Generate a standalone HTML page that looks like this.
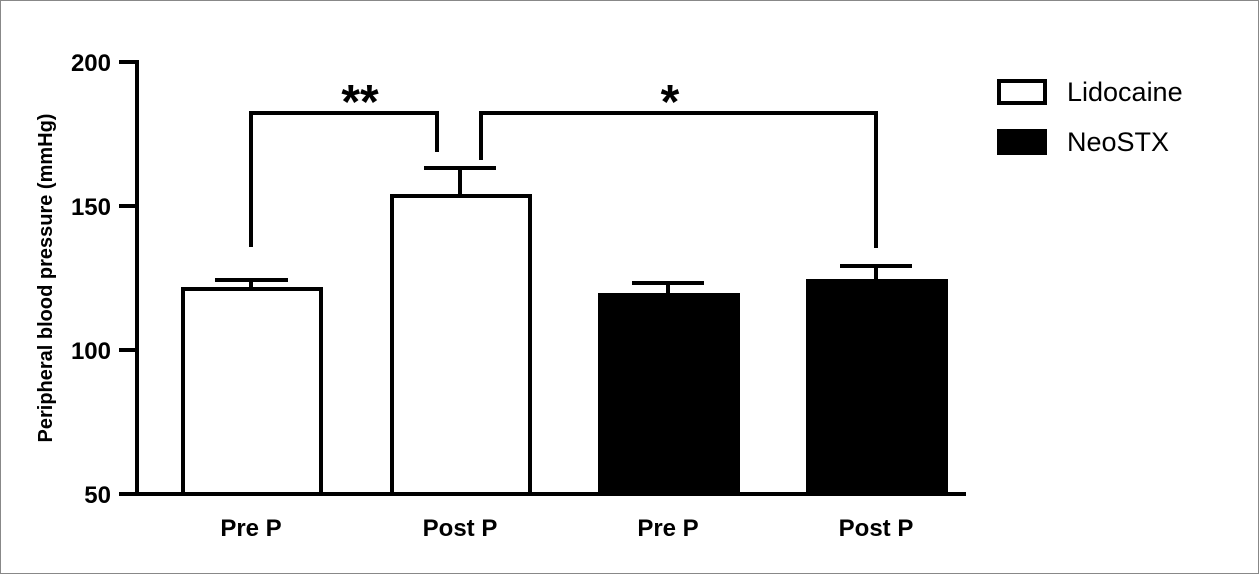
<!DOCTYPE html>
<html><head><style>
html,body{margin:0;padding:0;background:#fff;}
svg{display:block;}
text{font-family:"Liberation Sans",Arial,sans-serif;}
</style></head><body>
<svg width="1259" height="574" viewBox="0 0 1259 574" xmlns="http://www.w3.org/2000/svg">
<rect x="0.5" y="0.5" width="1258" height="573" fill="#fff" stroke="#888" stroke-width="1"/>
<g stroke="#000" stroke-width="4" fill="none">
<line x1="137" y1="60" x2="137" y2="496"/>
<line x1="135" y1="494" x2="966" y2="494"/>
<line x1="119" y1="62" x2="137" y2="62"/>
<line x1="119" y1="206" x2="137" y2="206"/>
<line x1="119" y1="350" x2="137" y2="350"/>
<line x1="119" y1="494" x2="137" y2="494"/>
<line x1="251" y1="289" x2="251" y2="280"/><line x1="215" y1="280" x2="288" y2="280"/>
<line x1="460" y1="196" x2="460" y2="168"/><line x1="424" y1="168" x2="496" y2="168"/>
<line x1="668" y1="295" x2="668" y2="283"/><line x1="632" y1="283" x2="704" y2="283"/>
<line x1="876" y1="281" x2="876" y2="266"/><line x1="840" y1="266" x2="912" y2="266"/>
<rect x="183" y="289" width="138" height="205" fill="#fff"/>
<rect x="392" y="196" width="138" height="298" fill="#fff"/>
<rect x="600" y="295" width="138" height="199" fill="#000"/>
<rect x="808" y="281" width="138" height="213" fill="#000"/>
<polyline points="251,247 251,113 437,113 437,152"/>
<polyline points="481,160 481,113 876,113 876,248"/>
<rect x="999" y="81" width="46" height="22" fill="#fff"/>
<rect x="999" y="131" width="46" height="22" fill="#000"/>
</g>
<g font-weight="bold" font-size="24" text-anchor="end">
<text x="111" y="71">200</text>
<text x="111" y="215">150</text>
<text x="111" y="359">100</text>
<text x="111" y="503">50</text>
</g>
<g font-weight="bold" font-size="24" text-anchor="middle">
<text x="251" y="536">Pre P</text>
<text x="460" y="536">Post P</text>
<text x="668" y="536">Pre P</text>
<text x="876" y="536">Post P</text>
</g>
<text x="360" y="118" font-size="48" font-weight="bold" text-anchor="middle">**</text>
<text x="670" y="118" font-size="48" font-weight="bold" text-anchor="middle">*</text>
<text x="1067" y="101" font-size="27">Lidocaine</text>
<text x="1067" y="151" font-size="27">NeoSTX</text>
<text transform="translate(52,278) rotate(-90)" font-size="20" font-weight="bold" text-anchor="middle">Peripheral blood pressure  (mmHg)</text>
</svg>
</body></html>
